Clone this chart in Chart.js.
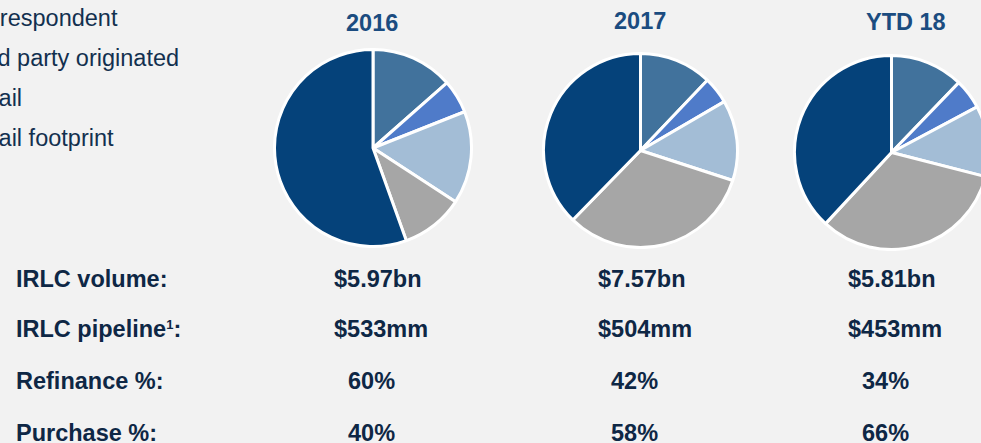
<!DOCTYPE html>
<html><head><meta charset="utf-8">
<script src="https://cdn.jsdelivr.net/npm/chart.js@4.4.1/dist/chart.umd.min.js"></script>
<style>
html,body{margin:0;padding:0;width:981px;height:443px;overflow:hidden;background:#F2F2F2;font-family:"Liberation Sans",Arial,sans-serif;}
.t{position:absolute;white-space:nowrap;line-height:1;}
canvas{position:absolute;}
</style></head><body>
<script>
// ---- data ----
const categories = ["Consumer direct","Correspondent","Third party originated","Retail","Retail footprint"];
const legendLabels = ["Correspondent","Third party originated","Retail","Retail footprint"];
const periods = ["2016","2017","YTD 18"];
const mix2016 = [13.5, 5.5, 15.2, 10.3, 55.5];
const mix2017 = [12.1, 4.5, 13.4, 32.3, 37.7];
const mixYTD18 = [12.2, 5.0, 11.8, 32.9, 38.1];
const metricLabels = ["IRLC volume:","IRLC pipeline¹:","Refinance %:","Purchase %:"];
const irlcVolume = ["$5.97bn","$7.57bn","$5.81bn"];
const irlcPipeline = ["$533mm","$504mm","$453mm"];
const refinancePct = ["60%","42%","34%"];
const purchasePct = ["40%","58%","66%"];
const sliceColors = ["#41729C","#4F7BC9","#A3BDD6","#A6A6A6","#05427A"];

// ---- layout ----
const FS = 23.5;
function addText(html, x, baseline, opts){
  const d = document.createElement('div');
  d.className = 't';
  d.innerHTML = html;
  const f = opts.size || FS;
  d.style.fontSize = f + 'px';
  d.style.fontWeight = opts.bold ? 'bold' : 'normal';
  d.style.color = opts.color;
  d.style.top = (baseline - 0.8465 * f) + 'px';
  document.body.appendChild(d);
  if (opts.center) {
    d.style.left = (x - d.offsetWidth / 2) + 'px';
  } else {
    d.style.left = x + 'px';
  }
  return d;
}

// legend (cropped at left edge)
const legendBase = [27.3, 66.8, 106.8, 146.6];
const legendX = [-38, -43, -38, -38];
legendLabels.forEach((l, i) => addText(l, legendX[i], legendBase[i], {color:'#12304F'}));

// period titles
const titleX = [372, 640, 906];
const titleBase = [31.7, 29.5, 31.2];
periods.forEach((p, i) => addText(p, titleX[i], titleBase[i], {bold:true, color:'#1B4C80', center:true}));

// pies
const pieBoxes = [{l:273, t:48, s:200}, {l:542, t:52, s:197}, {l:793, t:54, s:197}];
[mix2016, mix2017, mixYTD18].forEach((vals, i) => {
  const c = document.createElement('canvas');
  const b = pieBoxes[i];
  c.width = b.s; c.height = b.s;
  c.style.left = b.l + 'px'; c.style.top = b.t + 'px';
  c.style.width = b.s + 'px'; c.style.height = b.s + 'px';
  document.body.appendChild(c);
  new Chart(c, {
    type: 'pie',
    data: { labels: categories, datasets: [{ data: vals, backgroundColor: sliceColors, borderColor: '#FFFFFF', borderWidth: 3 }] },
    options: {
      responsive: false, animation: false, devicePixelRatio: 1,
      layout: { padding: 0 },
      plugins: { legend: { display: false }, tooltip: { enabled: false } }
    }
  });
});

// table
const rowBase = [288.3, 338.3, 390, 441.7];
const rowVals = [irlcVolume, irlcPipeline, refinancePct, purchasePct];
const dollarX = [334, 598, 848];
const pctX = [348, 611, 862];
const tc = '#0E2745';
metricLabels.forEach((lab, r) => {
  const html = lab.replace('¹', '<span style="font-size:13px;position:relative;top:-8px">1</span>');
  addText(html, 16, rowBase[r], {bold:true, color:tc});
  rowVals[r].forEach((v, c) => {
    const x = (r < 2 ? dollarX : pctX)[c];
    addText(v, x, rowBase[r], {bold:true, color:tc});
  });
});
</script>
</body></html>
